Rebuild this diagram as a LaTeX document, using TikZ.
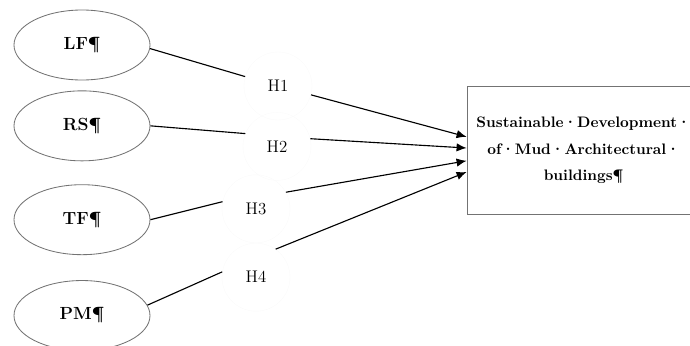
\documentclass[tikz,border=0pt]{standalone}
\usepackage{tikz}
\usetikzlibrary{arrows.meta, positioning, shapes.geometric}

\begin{document}
\begin{tikzpicture}[
    factor/.style = {ellipse, draw=black!55, line width=0.6pt, minimum width=3.4cm, minimum height=1.75cm, font=\fontsize{12.5}{14}\selectfont\bfseries},
    hyp/.style = {circle, draw=black!2, line width=0.3pt, minimum size=1.7cm, inner sep=0pt, font=\fontsize{12}{14}\selectfont},
    outcome/.style = {rectangle, draw=black!55, line width=0.6pt, minimum width=5.83cm, minimum height=3.18cm, align=center, font=\fontsize{10.8}{19}\selectfont\bfseries},
    link/.style = {line width=0.8pt},
    effect/.style = {line width=0.8pt, -{Latex[length=2.5mm, width=2.1mm]}}
  ]
    \useasboundingbox (0,0) rectangle (17.25,-8.625);
    % factors
    \node[factor] (lf) at (2.05,-1.125) {LF¶};
    \node[factor, below=0.25cm of lf] (rs) {RS¶};
    \node[factor, below=0.575cm of rs] (tf) {TF¶};
    \node[factor, below=0.625cm of tf] (pm) {PM¶};
    % hypotheses
    \node[hyp] (h1) at (6.95,-2.15) {H1};
    \node[hyp] (h2) at (6.925,-3.66) {H2};
    \node[hyp] (h3) at (6.4,-5.22) {H3};
    \node[hyp] (h4) at (6.4,-6.93) {H4};
    % outcome
    \node[outcome] (sd) at (14.59,-3.76) {Sustainable·Development·\\of·Mud·Architectural·\\buildings¶};
    \coordinate (t1) at ([yshift=0.34cm]sd.west);
    \coordinate (t2) at ([yshift=0.06cm]sd.west);
    \coordinate (t3) at ([yshift=-0.26cm]sd.west);
    \coordinate (t4) at ([yshift=-0.54cm]sd.west);

    \draw[link] (lf.-3) -- (h1.164);
    \draw[link] (rs.east) -- (h2.158);
    \draw[link] (tf.east) -- (h3.168);
    \draw[link] (pm.9) -- (h4.171);
    \draw[effect] (h1.-15) -- (t1);
    \draw[effect] (h2.13) -- (t2);
    \draw[effect] (h3.29) -- (t3);
    \draw[effect] (h4.55) -- (t4);
\end{tikzpicture}
\end{document}
